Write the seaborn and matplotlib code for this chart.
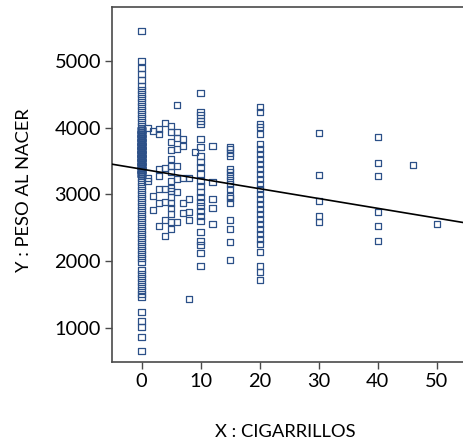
import numpy as np
import pandas as pd
import seaborn as sns
import matplotlib.pyplot as plt

# ---- data (cigarettes per day vs birth weight) ----
# x = 0 column: observed weights and how many mothers share each value
X0_VALUES = [
    5445, 4995, 4890, 4800, 4710, 4620, 4560, 4500,
    4440, 4380, 4320, 4260, 4200, 4140, 4080, 4020,
    3960, 3900, 3840, 3780, 3720, 3660, 3600, 3540, 3480, 3420, 3360, 3300,
    3240, 3180, 3120, 3060, 3000, 2940, 2880, 2820, 2760, 2700,
    2640, 2580, 2520, 2460, 2400, 2340, 2280, 2220, 2160, 2100,
    2040, 1980, 1860, 1800, 1740, 1680, 1620, 1560, 1500, 1455,
    1230, 1095, 1005, 855, 645,
]
X0_COUNTS = [
    1, 1, 1, 1, 1, 1, 1, 1,
    1, 1, 1, 1, 1, 1, 1, 1,
    8, 10, 10, 11, 12, 12, 12, 12, 11, 11, 10, 9,
    1, 1, 1, 1, 1, 1, 1, 1, 1, 1,
    1, 1, 1, 1, 1, 1, 1, 1, 1, 1,
    1, 1, 1, 1, 1, 1, 1, 1, 1, 1,
    1, 1, 1, 1, 1,
]
X1 = [4000, 3250, 3200]
X2 = [3950, 2975, 2760]
X3 = [3975, 3900, 3375, 3270, 3080, 2870, 2530]
X4 = [4065, 3400, 3080, 2890, 2620, 2370]
X5 = [4020, 3930, 3780, 3665, 3525, 3420, 3330, 3195, 3100, 3045,
      2960, 2870, 2790, 2700, 2580, 2480]
X6 = [4335, 3930, 3850, 3675, 3420, 3225, 3030, 2580]
X7 = [3825, 3720, 3250, 2870, 2720]
X8 = [3240, 2925, 2730, 2610, 1425]
X9 = [3630]
X10 = [4515, 4230, 4185, 4095, 4050, 3825, 3705, 3570, 3480, 3405,
       3300, 3195, 3120, 3030, 2955, 2880, 2820, 2745, 2670, 2600,
       2430, 2295, 2235, 2115, 1920]
X12 = [3720, 3180, 2925, 2790, 2550]
X15 = [3705, 3675, 3615, 3570, 3375, 3330, 3270, 3210, 3150, 3075,
       2970, 2940, 2865, 2610, 2475, 2280, 2010]
X20 = [4305, 4230, 4050, 4005, 3900, 3750, 3675, 3600, 3525, 3450,
       3375, 3300, 3225, 3150, 3075, 3000, 2925, 2850, 2775, 2700,
       2625, 2550, 2475, 2400, 2325, 2250, 2130, 1920, 1830, 1710]
X30 = [3915, 3285, 2895, 2670, 2580]
X40 = [3855, 3465, 3270, 2730, 2520, 2295]
X46 = [3435]
X50 = [2550]

X0 = list(np.repeat(X0_VALUES, X0_COUNTS))
GROUPS = {0: X0, 1: X1, 2: X2, 3: X3, 4: X4, 5: X5, 6: X6, 7: X7, 8: X8,
          9: X9, 10: X10, 12: X12, 15: X15, 20: X20, 30: X30, 40: X40,
          46: X46, 50: X50}

X_TICKS = [0, 10, 20, 30, 40, 50]
Y_TICKS = [1000, 2000, 3000, 4000, 5000]
X_LABEL = "X : CIGARRILLOS"
Y_LABEL = "Y : PESO AL NACER"

rows = [(k, v) for k, vals in GROUPS.items() for v in vals]
df = pd.DataFrame(rows, columns=["cig", "peso"])

# ---- style ----
sns.set_theme(style="ticks")
plt.rcParams['font.family'] = ['Lato', 'DejaVu Sans']

BLUE = "#2c5088"
SPINE = "#4a4a4a"

fig = plt.figure(figsize=(4.64, 4.43), dpi=100)
ax = fig.add_axes([112 / 464, 1 - 362 / 443, 352 / 464, 355 / 443])
ax.set_xlim(-5.0, 54.6)
ax.set_ylim(485, 5810)

sns.scatterplot(data=df, x="cig", y="peso", marker="s", s=20,
                facecolor="none", edgecolor=BLUE, linewidth=0.9,
                ax=ax, zorder=2, legend=False)
sns.regplot(data=df, x="cig", y="peso", scatter=False, ci=None,
            truncate=False, ax=ax,
            line_kws=dict(color="black", lw=1.2, zorder=3))

ax.set_xlim(-5.0, 54.6)
ax.set_ylim(485, 5810)
ax.set_xticks(X_TICKS)
ax.set_yticks(Y_TICKS)

for side in ["top", "left", "bottom"]:
    ax.spines[side].set_visible(True)
    ax.spines[side].set_color(SPINE)
    ax.spines[side].set_linewidth(1.2)
ax.spines["right"].set_visible(False)

ax.tick_params(direction="out", length=5, width=1, color=SPINE,
               labelsize=14.4, labelcolor="black", pad=3)
ax.tick_params(top=False, right=False)

ax.set_xlabel(X_LABEL, fontsize=13.2, color="black")
ax.set_ylabel(Y_LABEL, fontsize=13.2, color="black")
ax.xaxis.set_label_coords(0.491, -0.175)
ax.yaxis.set_label_coords(-0.228, 0.485)

fig.savefig("out.png", dpi=100)
